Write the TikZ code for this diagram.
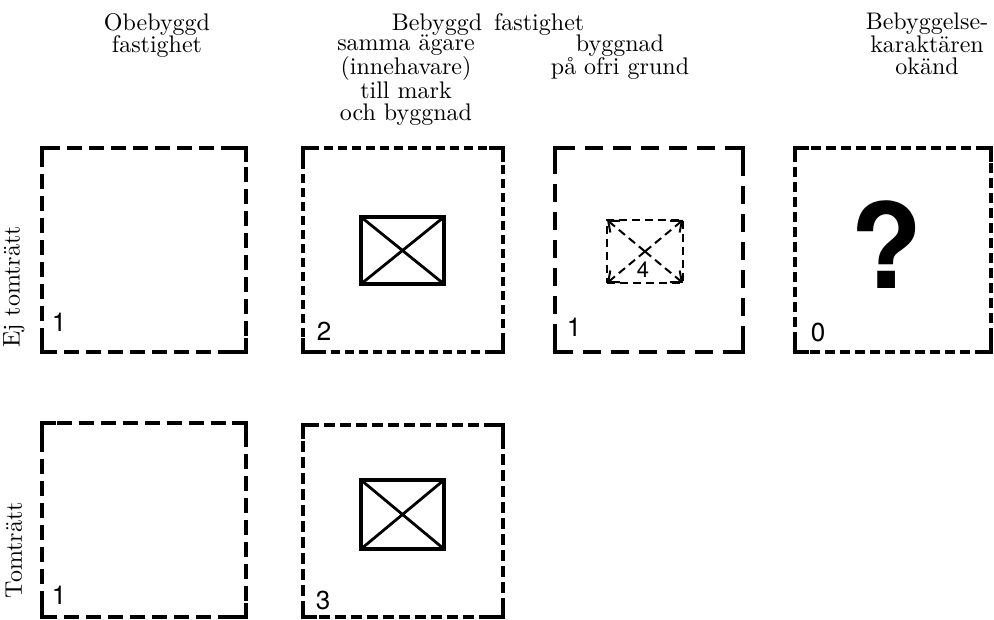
\documentclass[tikz,border=0pt]{standalone}
\usepackage{fontspec}
\usepackage{tikz}
\usetikzlibrary{arrows.meta, positioning, calc}
\newfontfamily\nrfont{TeX Gyre Heros}
\newfontfamily\lmten{lmroman10-regular}[Extension=.otf]
\newcommand{\hdrfont}{\lmten\fontsize{24}{22.5}\selectfont}

\tikzset{
  lot/.style={draw, line width=4.5pt, inner sep=0pt, outer sep=0pt},
  hus/.style={draw, line width=3.5pt, inner sep=0pt, outer sep=0pt},
  hrn/.style={line width=4.5pt, line cap=rect, line join=miter},
  hdr/.style={font=\hdrfont, align=center, inner sep=0pt, anchor=north},
  nr/.style={font=\nrfont\fontsize{26}{26}\selectfont, inner sep=0pt},
  pil/.style={line width=2pt, dash pattern=on 8pt off 5pt, -{Straight Barb[length=9pt,width=15pt]}}
}

\begin{document}
\begin{tikzpicture}[x=1pt,y=1pt]
  \useasboundingbox (0,0) rectangle (994,620);

  % column heads
  \node[hdr] (h1) at (157,607) {Obebyggd\\fastighet};
  \node[hdr] (h2) at (488,607) {Bebyggd\enspace fastighet};
  \node[hdr] (h3) at (406,585) {samma ägare\\(innehavare)\\till mark\\och byggnad};
  \node[hdr] (h4) at (620,585) {byggnad\\på ofri grund};
  \node[hdr] (h5) at (927,607) {Bebyggelse-\\karaktären\\okänd};

  % row heads
  \node[font=\hdrfont, rotate=90, inner sep=0pt] (r1) at (14,333) {Ej tomträtt};
  \node[font=\hdrfont, rotate=90, inner sep=0pt] (r2) at (14,70) {Tomträtt};

  % lots
  \node[lot, dash pattern=on 15pt off 7pt, minimum width=204pt, minimum height=204pt] (b1) at (144,370) {};
  \node[lot, dash pattern=on 9pt off 5pt, minimum width=200pt, minimum height=204pt] (b2) at (403,370) {};
  \node[lot, dash pattern=on 18pt off 10pt, minimum width=188pt, minimum height=204pt] (b3) at (649,370) {};
  \node[lot, dash pattern=on 10pt off 5pt, minimum width=196pt, minimum height=204pt] (b4) at (893,370) {};
  \node[lot, dash pattern=on 15pt off 7pt, minimum width=204pt, minimum height=194pt] (b5) at (144,100) {};
  \node[lot, dash pattern=on 11pt off 5pt, minimum width=200pt, minimum height=192pt] (b6) at (403,99) {};

  % solid corners
  \foreach \b in {b1,b2,b3,b4,b5,b6} {
    \draw[hrn] ([yshift=12pt]\b.south west) -- (\b.south west) -- ([xshift=12pt]\b.south west);
    \draw[hrn] ([yshift=12pt]\b.south east) -- (\b.south east) -- ([xshift=-12pt]\b.south east);
    \draw[hrn] ([yshift=-12pt]\b.north west) -- (\b.north west) -- ([xshift=12pt]\b.north west);
    \draw[hrn] ([yshift=-12pt]\b.north east) -- (\b.north east) -- ([xshift=-12pt]\b.north east);
  }

  % buildings
  \node[hus, minimum width=83pt, minimum height=67pt] (in2) at (402.5,369.5) {};
  \draw[line width=2.8pt] (in2.north west) -- (in2.south east);
  \draw[line width=2.8pt] (in2.south west) -- (in2.north east);
  \node[hus, minimum width=83pt, minimum height=69pt] (in6) at (402.5,105.5) {};
  \draw[line width=2.8pt] (in6.north west) -- (in6.south east);
  \draw[line width=2.8pt] (in6.south west) -- (in6.north east);

  \node[draw, line width=2pt, dash pattern=on 8pt off 5pt, inner sep=0pt, outer sep=0pt,
        minimum width=76pt, minimum height=63pt] (in3) at (645,368.5) {};
  \foreach \c in {north west, north east, south west, south east}
    \draw[pil] (in3.center) -- (in3.\c);
  \node[nr, font=\nrfont\fontsize{22}{22}\selectfont] (n4) at (643,350) {4};

  \node[font=\nrfont\bfseries\fontsize{118}{118}\selectfont, inner sep=0pt] (q) at (887,375) {?};

  % counts
  \node[nr] (c1) at (59,298) {1};
  \node[nr] (c2) at (324,289) {2};
  \node[nr] (c3) at (574,293) {1};
  \node[nr] (c4) at (818,288) {0};
  \node[nr] (c5) at (59,25) {1};
  \node[nr] (c6) at (323,20) {3};
\end{tikzpicture}
\end{document}
